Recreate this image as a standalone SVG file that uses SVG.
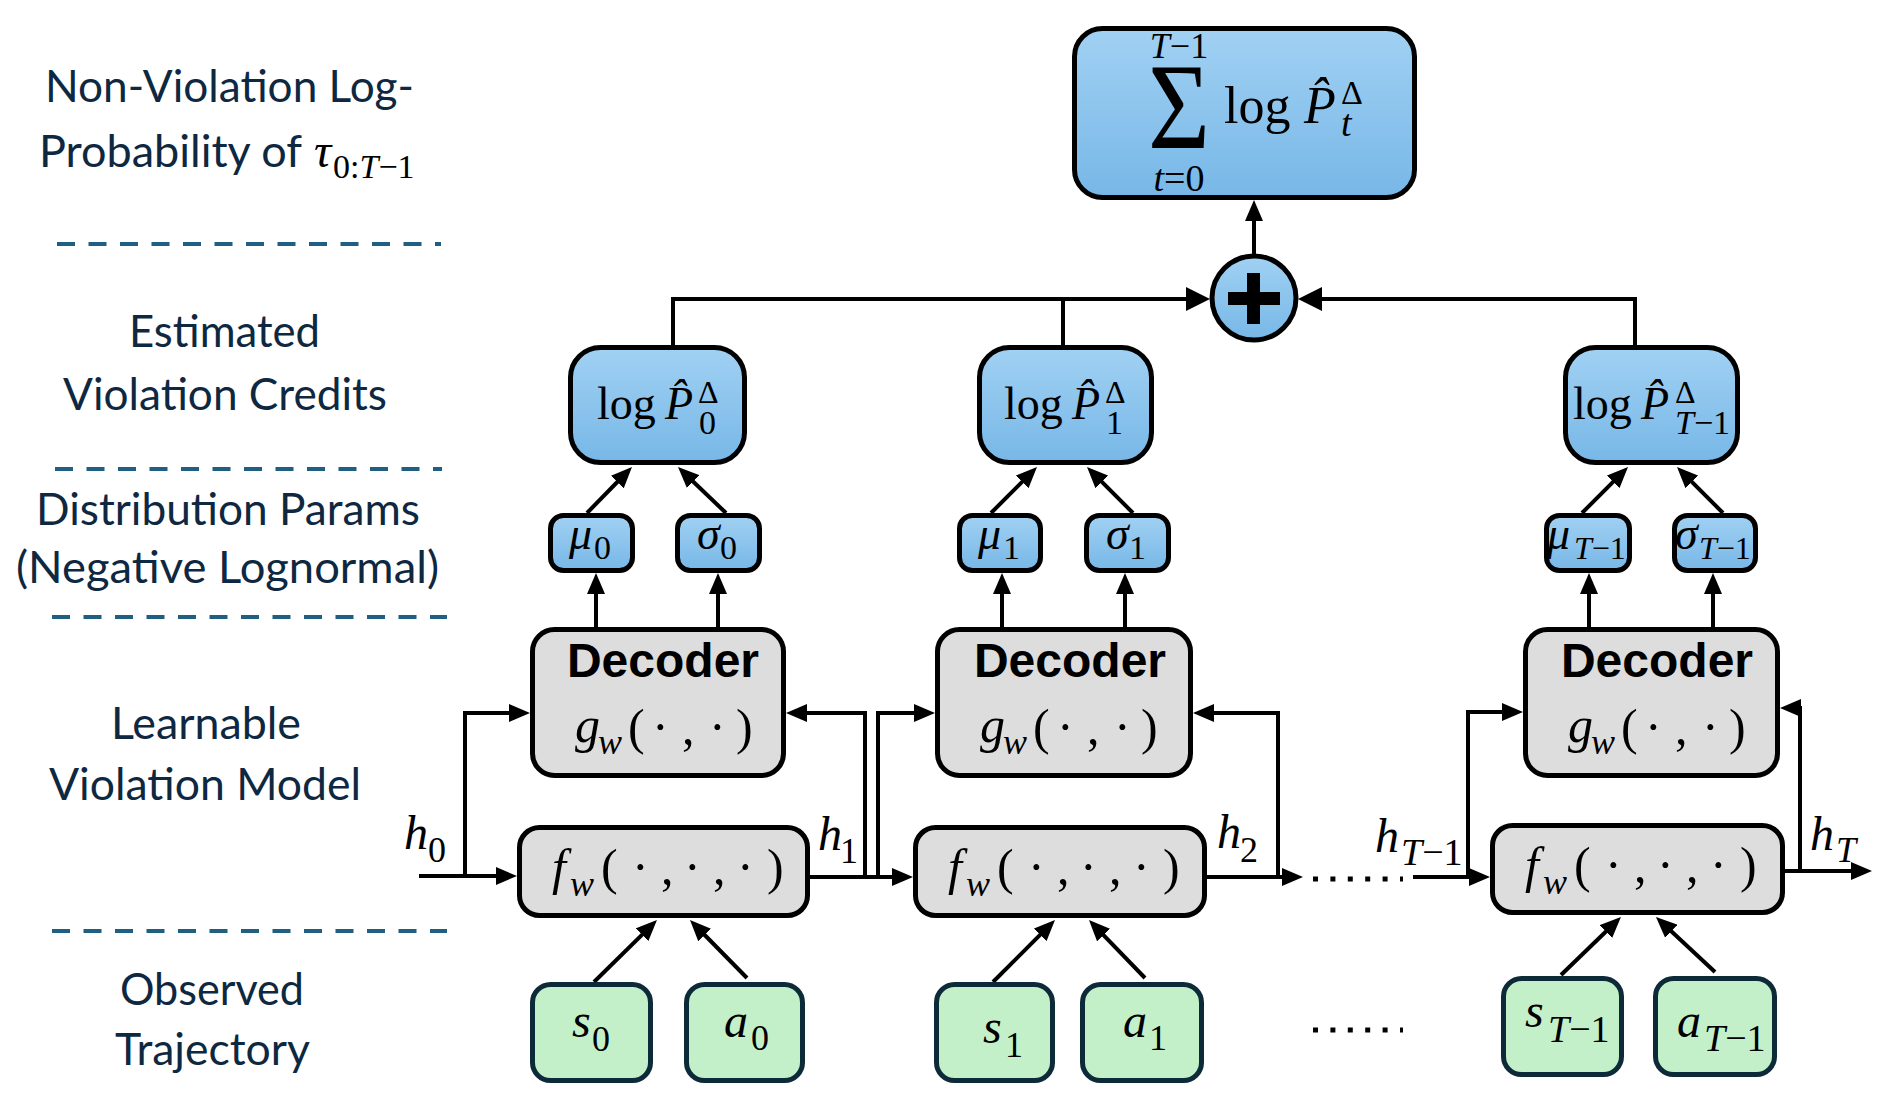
<svg xmlns="http://www.w3.org/2000/svg" width="1891" height="1102" viewBox="0 0 1891 1102">
<defs>
<linearGradient id="blueG" x1="0" y1="0" x2="0" y2="1">
<stop offset="0" stop-color="#a1d1f3"/>
<stop offset="1" stop-color="#77b7e7"/>
</linearGradient>
<marker id="arr" viewBox="0 0 21 18" refX="7" refY="9" markerWidth="21" markerHeight="18" markerUnits="userSpaceOnUse" orient="auto">
<path d="M0,0 L21,9 L0,18 z" fill="#000"/>
</marker>
<marker id="arrL" viewBox="0 0 24 24" refX="10" refY="12" markerWidth="24" markerHeight="24" markerUnits="userSpaceOnUse" orient="auto">
<path d="M0,0 L24,12 L0,24 z" fill="#000"/>
</marker>
<style>
.lbl{font-family:Lato,"Liberation Sans",sans-serif;font-size:44px;fill:#0e2841}
.mid{text-anchor:middle}
.dash{stroke:#1f5f82;stroke-width:4;stroke-dasharray:18 13.5;fill:none}
.blue{fill:url(#blueG);stroke:#000;stroke-width:5}
.gray{fill:#dddddd;stroke:#000;stroke-width:5}
.green{fill:#c4f0c9;stroke:#0d2a38;stroke-width:5}
.m{font-family:"Liberation Serif","Times New Roman",serif;fill:#000}
.i{font-style:italic}
.dec{font-family:"Liberation Sans",Arial,sans-serif;font-weight:bold;font-size:48px;text-anchor:middle;fill:#000}
.c{fill:none;stroke:#000;stroke-width:4}
.ca{fill:none;stroke:#000;stroke-width:4;marker-end:url(#arr)}
.cL{fill:none;stroke:#000;stroke-width:4;marker-end:url(#arrL)}
.dots{stroke:#000;stroke-width:5;stroke-dasharray:5 12.4;fill:none}
</style>
</defs>
<rect width="1891" height="1102" fill="#fff"/>

<g id="layer-labels">
<text class="lbl mid" x="229.5" y="102" textLength="369" lengthAdjust="spacingAndGlyphs">Non-Violation Log-</text>
<text class="lbl" x="39" y="167" textLength="263" lengthAdjust="spacingAndGlyphs">Probability of</text>
<text class="m" y="167"><tspan class="i" x="314" font-size="48">τ</tspan><tspan x="333" y="178" font-size="34">0:<tspan class="i">T</tspan>−1</tspan></text>
<text class="lbl mid" x="224.5" y="347" textLength="191" lengthAdjust="spacingAndGlyphs">Estimated</text>
<text class="lbl mid" x="225" y="410" textLength="324" lengthAdjust="spacingAndGlyphs">Violation Credits</text>
<text class="lbl mid" x="228" y="525" textLength="384" lengthAdjust="spacingAndGlyphs">Distribution Params</text>
<text class="lbl mid" x="227.5" y="583" textLength="423" lengthAdjust="spacingAndGlyphs">(Negative Lognormal)</text>
<text class="lbl mid" x="206" y="739" textLength="190" lengthAdjust="spacingAndGlyphs">Learnable</text>
<text class="lbl mid" x="205" y="800" textLength="312" lengthAdjust="spacingAndGlyphs">Violation Model</text>
<text class="lbl mid" x="212" y="1005" textLength="184" lengthAdjust="spacingAndGlyphs">Observed</text>
<text class="lbl mid" x="212.5" y="1065" textLength="195" lengthAdjust="spacingAndGlyphs">Trajectory</text>
<path class="dash" d="M57,244 H441"/>
<path class="dash" d="M55,469 H442"/>
<path class="dash" d="M52,617 H447"/>
<path class="dash" d="M52,931 H447"/>
</g>

<g id="connectors">
<path class="ca" d="M1254,254 V214"/>
<path class="cL" d="M673,347 V299 H1196"/>
<path class="c" d="M1063,347 V299"/>
<path class="cL" d="M1635,347 V299 H1312"/>
<path class="ca" d="M587,513 L622.2,477"/>
<path class="ca" d="M726,513 L688.1,476.7"/>
<path class="ca" d="M991,513 L1027.1,476.9"/>
<path class="ca" d="M1133,513 L1096.9,476.9"/>
<path class="ca" d="M1582,513 L1618.1,476.9"/>
<path class="ca" d="M1723,513 L1686.9,476.9"/>
<path class="ca" d="M596,628 V587"/>
<path class="ca" d="M718,628 V587"/>
<path class="ca" d="M1002,628 V587"/>
<path class="ca" d="M1125,628 V587"/>
<path class="ca" d="M1589,628 V587"/>
<path class="ca" d="M1713,628 V587"/>
<path class="ca" d="M419,876 H503"/>
<path class="ca" d="M465,876 V713 H516"/>
<path class="ca" d="M810,877 H899"/>
<path class="ca" d="M865,877 V713 H800"/>
<path class="ca" d="M878,877 V713 H921"/>
<path class="ca" d="M1207,877 H1289"/>
<path class="ca" d="M1278,877 V713 H1207"/>
<path class="ca" d="M1413,877 H1476"/>
<path class="ca" d="M1468,877 V712 H1509"/>
<path class="ca" d="M1785,871 H1858"/>
<path class="ca" d="M1800,871 V708 H1794"/>
<path class="ca" d="M594,982 L647,929.8"/>
<path class="ca" d="M747,978 L699.8,930"/>
<path class="ca" d="M993,982 L1045.1,929.9"/>
<path class="ca" d="M1145,978 L1098.7,930.1"/>
<path class="ca" d="M1561,975 L1610.9,926.7"/>
<path class="ca" d="M1715,972 L1666.2,926.5"/>
<path class="dots" d="M1313,879 H1403"/>
</g>

<g id="sum-node">
<rect class="blue" x="1074.5" y="28.5" width="340" height="169" rx="28"/>
<text class="m" x="1148" y="148" font-size="122" textLength="62" lengthAdjust="spacingAndGlyphs">Σ</text>
<text class="m" x="1179" y="58" font-size="36" text-anchor="middle"><tspan class="i">T</tspan>−1</text>
<text class="m" x="1179" y="191" font-size="38" text-anchor="middle"><tspan class="i">t</tspan>=0</text>
<text class="m" font-size="52" y="123"><tspan x="1224">log</tspan><tspan class="i" x="1304">P̂</tspan><tspan x="1341" y="104" font-size="34">Δ</tspan><tspan class="i" x="1341" y="136" font-size="38">t</tspan></text>
</g>

<g id="plus-node">
<circle cx="1254" cy="298" r="42" fill="url(#blueG)" stroke="#000" stroke-width="5"/>
<rect x="1228" y="292" width="52" height="13" fill="#000"/>
<rect x="1247" y="273" width="13" height="51" fill="#000"/>
</g>

<g id="logP0">
<rect class="blue" x="570.5" y="347.5" width="174" height="115" rx="30"/>
<text class="m" font-size="46" y="419"><tspan x="597">log</tspan><tspan class="i" x="665">P̂</tspan><tspan x="698" y="403" font-size="32">Δ</tspan><tspan x="699" y="434" font-size="34">0</tspan></text>
</g>
<g id="logP1">
<rect class="blue" x="979.5" y="347.5" width="172" height="115" rx="30"/>
<text class="m" font-size="46" y="419"><tspan x="1004">log</tspan><tspan class="i" x="1072">P̂</tspan><tspan x="1105" y="403" font-size="32">Δ</tspan><tspan x="1106" y="434" font-size="34">1</tspan></text>
</g>
<g id="logPT">
<rect class="blue" x="1565.5" y="347.5" width="172" height="115" rx="30"/>
<text class="m" font-size="46" y="419"><tspan x="1573">log</tspan><tspan class="i" x="1641">P̂</tspan><tspan x="1675" y="403" font-size="32">Δ</tspan><tspan x="1675" y="434" font-size="34"><tspan class="i">T</tspan>−1</tspan></text>
</g>

<g id="mu0"><rect class="blue" x="550.5" y="515.5" width="82" height="55" rx="13"/><text class="m" y="549"><tspan class="i" x="569" font-size="46">μ</tspan><tspan x="594" y="559" font-size="34">0</tspan></text></g>
<g id="sigma0"><rect class="blue" x="677.5" y="515.5" width="82" height="55" rx="13"/><text class="m" y="549"><tspan class="i" x="697" font-size="46">σ</tspan><tspan x="720" y="559" font-size="34">0</tspan></text></g>
<g id="mu1"><rect class="blue" x="959.5" y="515.5" width="81" height="55" rx="13"/><text class="m" y="549"><tspan class="i" x="978" font-size="46">μ</tspan><tspan x="1003" y="559" font-size="34">1</tspan></text></g>
<g id="sigma1"><rect class="blue" x="1086.5" y="515.5" width="82" height="55" rx="13"/><text class="m" y="549"><tspan class="i" x="1106" font-size="46">σ</tspan><tspan x="1129" y="559" font-size="34">1</tspan></text></g>
<g id="muT"><rect class="blue" x="1546.5" y="515.5" width="83" height="55" rx="13"/><text class="m" y="549"><tspan class="i" x="1547" font-size="46">μ</tspan><tspan x="1574" y="559" font-size="32"><tspan class="i">T</tspan>−1</tspan></text></g>
<g id="sigmaT"><rect class="blue" x="1674.5" y="515.5" width="81" height="55" rx="13"/><text class="m" y="549"><tspan class="i" x="1675" font-size="46">σ</tspan><tspan x="1699" y="559" font-size="32"><tspan class="i">T</tspan>−1</tspan></text></g>

<g id="decoder0">
<rect class="gray" x="532.5" y="629.5" width="251" height="146" rx="22"/>
<text class="dec" x="663" y="677">Decoder</text>
<text class="m" font-size="50" y="742"><tspan class="i" x="575">g</tspan><tspan class="i" x="598" y="754" font-size="36">w</tspan><tspan x="628" y="744">(</tspan><tspan x="652">·</tspan><tspan x="682">,</tspan><tspan x="709">·</tspan><tspan x="736">)</tspan></text>
</g>
<g id="decoder1">
<rect class="gray" x="937.5" y="629.5" width="253" height="146" rx="22"/>
<text class="dec" x="1070" y="677">Decoder</text>
<text class="m" font-size="50" y="742"><tspan class="i" x="980">g</tspan><tspan class="i" x="1003" y="754" font-size="36">w</tspan><tspan x="1033" y="744">(</tspan><tspan x="1057">·</tspan><tspan x="1087">,</tspan><tspan x="1114">·</tspan><tspan x="1141">)</tspan></text>
</g>
<g id="decoderT">
<rect class="gray" x="1525.5" y="629.5" width="252" height="146" rx="22"/>
<text class="dec" x="1657" y="677">Decoder</text>
<text class="m" font-size="50" y="742"><tspan class="i" x="1568">g</tspan><tspan class="i" x="1591" y="754" font-size="36">w</tspan><tspan x="1621" y="744">(</tspan><tspan x="1645">·</tspan><tspan x="1675">,</tspan><tspan x="1702">·</tspan><tspan x="1729">)</tspan></text>
</g>

<g id="f0">
<rect class="gray" x="519.5" y="827.5" width="288" height="88" rx="20"/>
<text class="m" font-size="50" y="884"><tspan class="i" x="552">f</tspan><tspan class="i" x="570" y="896" font-size="36">w</tspan><tspan x="601" y="884">(</tspan><tspan x="632">·</tspan><tspan x="661">,</tspan><tspan x="684">·</tspan><tspan x="713">,</tspan><tspan x="737">·</tspan><tspan x="767">)</tspan></text>
</g>
<g id="f1">
<rect class="gray" x="915.5" y="827.5" width="289" height="88" rx="20"/>
<text class="m" font-size="50" y="884"><tspan class="i" x="948">f</tspan><tspan class="i" x="966" y="896" font-size="36">w</tspan><tspan x="997" y="884">(</tspan><tspan x="1028">·</tspan><tspan x="1057">,</tspan><tspan x="1080">·</tspan><tspan x="1109">,</tspan><tspan x="1133">·</tspan><tspan x="1163">)</tspan></text>
</g>
<g id="fT">
<rect class="gray" x="1492.5" y="825.5" width="290" height="87" rx="20"/>
<text class="m" font-size="50" y="882"><tspan class="i" x="1525">f</tspan><tspan class="i" x="1543" y="894" font-size="36">w</tspan><tspan x="1574" y="882">(</tspan><tspan x="1605">·</tspan><tspan x="1634">,</tspan><tspan x="1657">·</tspan><tspan x="1686">,</tspan><tspan x="1710">·</tspan><tspan x="1740">)</tspan></text>
</g>

<g id="h-labels">
<text class="m" y="849"><tspan class="i" x="404" font-size="48">h</tspan><tspan x="428" y="862" font-size="36">0</tspan></text>
<text class="m" y="850"><tspan class="i" x="818" font-size="48">h</tspan><tspan x="840" y="863" font-size="36">1</tspan></text>
<text class="m" y="848"><tspan class="i" x="1217" font-size="48">h</tspan><tspan x="1240" y="862" font-size="36">2</tspan></text>
<text class="m" y="852"><tspan class="i" x="1375" font-size="48">h</tspan><tspan x="1401" y="865" font-size="38"><tspan class="i">T</tspan>−1</tspan></text>
<text class="m" y="850"><tspan class="i" x="1810" font-size="48">h</tspan><tspan class="i" x="1836" y="862" font-size="36">T</tspan></text>
</g>

<g id="s0"><rect class="green" x="532.5" y="984.5" width="118" height="96" rx="18"/><text class="m" y="1037"><tspan class="i" x="572" font-size="48">s</tspan><tspan x="592" y="1051" font-size="36">0</tspan></text></g>
<g id="a0"><rect class="green" x="686.5" y="984.5" width="116" height="96" rx="18"/><text class="m" y="1037"><tspan class="i" x="724" font-size="48">a</tspan><tspan x="751" y="1050" font-size="36">0</tspan></text></g>
<g id="s1"><rect class="green" x="936.5" y="984.5" width="116" height="96" rx="18"/><text class="m" y="1043"><tspan class="i" x="983" font-size="48">s</tspan><tspan x="1005" y="1057" font-size="36">1</tspan></text></g>
<g id="a1"><rect class="green" x="1082.5" y="984.5" width="119" height="96" rx="18"/><text class="m" y="1037"><tspan class="i" x="1123" font-size="48">a</tspan><tspan x="1149" y="1050" font-size="36">1</tspan></text></g>
<g id="sT"><rect class="green" x="1503.5" y="978.5" width="118" height="96" rx="18"/><text class="m" y="1027"><tspan class="i" x="1525" font-size="48">s</tspan><tspan x="1548" y="1042" font-size="38"><tspan class="i">T</tspan>−1</tspan></text></g>
<g id="aT"><rect class="green" x="1655.5" y="978.5" width="119" height="96" rx="18"/><text class="m" y="1037"><tspan class="i" x="1677" font-size="48">a</tspan><tspan x="1704" y="1051" font-size="38"><tspan class="i">T</tspan>−1</tspan></text></g>

<path class="dots" d="M1313,1030 H1403"/>
</svg>
